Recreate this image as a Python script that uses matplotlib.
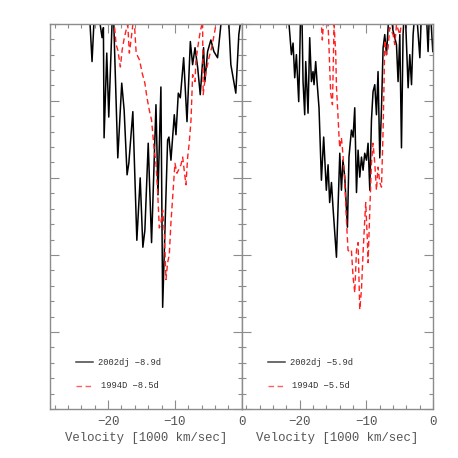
import matplotlib
matplotlib.use('Agg')
import matplotlib.pyplot as plt
from matplotlib.ticker import MultipleLocator, NullFormatter

# left panel: 2002dj -8.9d (black) vs 1994D -8.5d (red), velocity in 1000 km/s
v_dj_a = [-23.1, -22.7, -22.4, -22.1, -21.6, -21.2, -20.9, -20.7, -20.6, -20.2,
          -19.9, -19.4, -19.25, -18.55, -17.96, -17.6, -17.16, -16.9, -16.3, -15.7,
          -15.2, -14.8, -14.5, -14.0, -13.5, -12.84, -12.54, -12.1, -11.84, -11.5,
          -11.1, -10.9, -10.6, -10.1, -9.85, -9.5, -9.2, -8.7, -8.2, -7.7,
          -7.36, -7.0, -6.6, -6.22, -5.72, -5.52, -5.12, -4.63, -4.18, -3.63,
          -3.13, -2.84, -2.24, -1.94, -1.64, -0.9, -0.45, -0.15, 0.1]
f_dj_a = [5.4, 5.0, 4.51, 5.05, 5.4, 5.0, 4.82, 4.95, 3.52, 4.62,
          3.79, 5.03, 5.3, 3.26, 4.23, 3.88, 3.04, 3.19, 3.86, 2.19,
          3.0, 2.10, 2.32, 3.45, 2.16, 3.95, 2.78, 4.18, 1.32, 2.32,
          3.49, 3.53, 3.23, 3.82, 3.56, 4.1, 4.04, 4.56, 3.73, 4.77,
          4.47, 4.69, 4.43, 4.08, 4.69, 4.25, 4.64, 4.79, 4.64, 4.56,
          4.99, 5.3, 5.3, 5.0, 4.47, 4.1, 4.86, 5.05, 5.3]

v_94_a = [-19.55, -19.06, -18.8, -18.55, -18.16, -17.9, -17.57, -17.3, -17.06, -16.82,
          -16.57, -16.3, -16.1, -15.8, -15.3, -14.9, -14.5, -14.2, -13.84, -13.5,
          -13.1, -12.84, -12.6, -12.34, -12.1, -11.84, -11.6, -11.34, -11.1, -10.85,
          -10.6, -10.0, -9.7, -9.1, -8.85, -8.36, -8.1, -7.87, -7.6, -7.36,
          -7.0, -6.87, -6.6, -6.22, -5.87, -5.78, -5.37, -5.12, -4.88, -4.52,
          -4.13, -3.88, -3.4, 0.0]
f_94_a = [5.3, 4.99, 4.73, 4.66, 4.44, 4.66, 4.82, 4.92, 4.99, 4.62,
          4.79, 4.99, 5.05, 4.62, 4.53, 4.36, 4.23, 4.05, 3.88, 3.75,
          3.36, 3.19, 2.84, 2.35, 2.42, 2.58, 2.32, 1.68, 1.90, 2.0,
          2.42, 3.19, 3.06, 3.17, 3.27, 2.91, 3.27, 3.45, 3.75, 4.34,
          4.25, 4.51, 4.69, 4.9, 5.03, 4.08, 4.38, 4.47, 4.57, 4.69,
          4.86, 4.99, 5.3, 5.3]

# right panel: 2002dj -5.9d vs 1994D -5.5d
v_dj_b = [-22.1, -21.6, -21.25, -21.0, -20.75, -20.5, -20.15, -19.9, -19.7, -19.5,
          -19.25, -19.1, -18.75, -18.5, -18.24, -18.0, -17.85, -17.6, -17.4, -17.1,
          -16.74, -16.4, -16.0, -15.74, -15.5, -15.23, -15.0, -14.48, -13.98, -13.73,
          -13.5, -13.23, -12.83, -12.6, -12.23, -11.98, -11.73, -11.47, -11.23, -10.98,
          -10.72, -10.48, -10.23, -9.97, -9.73, -9.47, -9.22, -8.98, -8.72, -8.47,
          -8.23, -7.97, -7.71, -7.47, -7.22, -6.96, -6.72, -6.47, -6.0, -5.46,
          -5.22, -4.96, -4.71, -4.47, -4.2, -3.71, -3.46, -3.2, -2.96, -2.56,
          -1.95, -1.65, -1.05, -0.71, -0.45, 0.0]
f_dj_b = [5.3, 4.99, 4.6, 4.75, 4.3, 4.6, 3.99, 4.99, 5.3, 4.25,
          3.82, 4.51, 3.84, 4.82, 4.25, 4.38, 4.21, 4.51, 4.25, 3.91,
          2.97, 3.53, 2.84, 3.17, 2.68, 2.94, 2.62, 1.97, 3.32, 2.84,
          3.23, 3.01, 2.36, 3.27, 3.62, 3.53, 3.91, 2.81, 3.36, 3.01,
          3.27, 3.1, 3.32, 3.23, 3.45, 2.84, 3.75, 4.12, 4.21, 3.82,
          4.38, 3.26, 3.91, 4.69, 4.86, 4.6, 4.95, 5.3, 4.92, 4.73,
          4.25, 4.86, 3.39, 4.86, 5.3, 4.17, 4.6, 4.21, 4.86, 5.3,
          4.56, 5.3, 5.3, 4.64, 5.3, 4.64]

v_94_b = [-17.3, -16.74, -16.6, -16.4, -16.1, -15.74, -15.6, -15.5, -15.34, -15.08,
          -14.84, -14.59, -14.48, -14.24, -14.09, -13.98, -13.73, -13.5, -13.23, -12.98,
          -12.74, -12.48, -12.23, -11.98, -11.73, -11.47, -11.23, -11.08, -10.98, -10.72,
          -10.48, -10.23, -10.08, -9.82, -9.73, -9.47, -9.22, -8.98, -8.72, -8.47,
          -8.23, -7.97, -7.71, -7.47, -7.32, -7.22, -6.96, -6.72, -6.47, -5.97,
          -5.71, -5.46, -4.96, -4.66, -4.2, 0.0]
f_94_b = [5.3, 4.99, 4.79, 5.05, 5.3, 4.99, 4.7, 4.44, 4.1, 3.95,
          4.99, 4.62, 4.18, 3.79, 3.53, 3.39, 3.52, 3.3, 2.94, 2.45,
          2.06, 2.04, 2.06, 1.71, 1.51, 2.06, 2.16, 1.64, 1.29, 1.55,
          2.03, 2.45, 2.68, 2.16, 1.9, 2.58, 3.19, 3.45, 3.19, 2.84,
          3.14, 2.94, 2.88, 3.62, 4.27, 4.79, 4.6, 4.69, 4.95, 4.86,
          4.73, 4.99, 4.86, 5.03, 5.3, 5.3]

labels_a = ['2002dj \u22128.9d', '1994D \u22128.5d']
labels_b = ['2002dj \u22125.9d', '1994D \u22125.5d']

grey = '#8c8c8c'
txt = '#555555'
plt.rcParams['font.family'] = ['Liberation Mono', 'DejaVu Sans Mono']
plt.rcParams['axes.unicode_minus'] = True

fig = plt.figure(figsize=(4.58, 4.58), dpi=100)
ax1 = fig.add_axes([0.109, 0.107, 0.419, 0.841])
ax2 = fig.add_axes([0.528, 0.107, 0.417, 0.841])

panels = [(ax1, v_dj_a, f_dj_a, v_94_a, f_94_a, labels_a),
          (ax2, v_dj_b, f_dj_b, v_94_b, f_94_b, labels_b)]

for ax, vb, fb, vr, fr, labs in panels:
    ax.plot(vb, fb, color='black', lw=1.1)
    ax.plot(vr, fr, color='#ff2020', lw=1.0, dashes=(4, 2.5))
    ax.set_xlim(-28.7, 0)
    ax.set_ylim(0, 5)
    ax.xaxis.set_major_locator(MultipleLocator(10))
    ax.xaxis.set_minor_locator(MultipleLocator(2))
    ax.yaxis.set_major_locator(MultipleLocator(1))
    ax.yaxis.set_minor_locator(MultipleLocator(0.2))
    ax.yaxis.set_major_formatter(NullFormatter())
    ax.tick_params(which='both', direction='in', top=True, right=True,
                   color=grey, width=0.8, labelcolor=txt, labelsize=9, pad=5)
    ax.tick_params(which='major', length=6.5)
    ax.tick_params(which='minor', length=3.2)
    for s in ax.spines.values():
        s.set_color(grey)
        s.set_linewidth(1.0)
    ax.set_xlabel('Velocity [1000 km/sec]', color=txt, fontsize=8.9, labelpad=3)

    # hand-drawn key
    ax.plot([0.135, 0.224], [0.122, 0.122], transform=ax.transAxes,
            color='#444444', lw=1.1)
    ax.plot([0.135, 0.224], [0.060, 0.060], transform=ax.transAxes,
            color='#ff6060', lw=1.0, dashes=(4, 2.5))
    ax.text(0.25, 0.122, labs[0], transform=ax.transAxes, color='#333333',
            fontsize=6.3, va='center')
    ax.text(0.265, 0.060, labs[1], transform=ax.transAxes, color='#333333',
            fontsize=6.3, va='center')

fig.savefig('out.png', dpi=100)
